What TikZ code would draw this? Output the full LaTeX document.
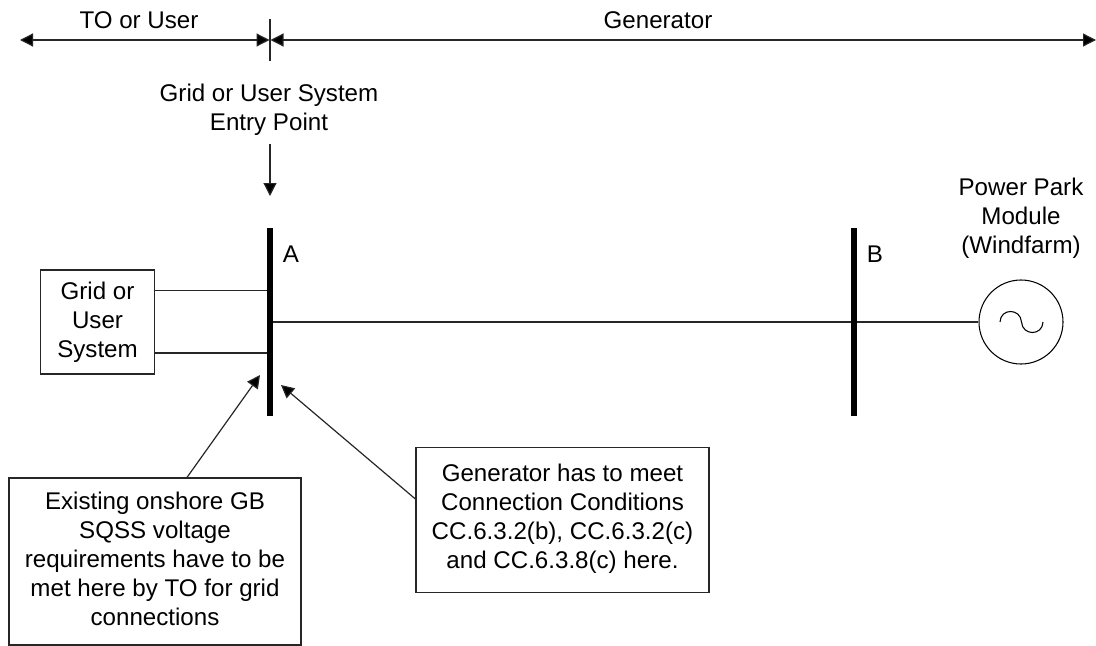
\documentclass[tikz,border=0pt]{standalone}
\usepackage{fontspec}
\setmainfont{Liberation Sans}
\usetikzlibrary{arrows.meta}
\tikzset{
  txt/.style={inner sep=0pt,align=center,font=\fontsize{18.1}{21.75}\selectfont,text=black},
  boxed/.style={draw=black!85,line width=0.9pt,inner sep=0pt,align=center,font=\fontsize{18.1}{21.75}\selectfont},
  thinline/.style={draw=black!85,line width=0.9pt},
  tipstyle/.tip={Triangle[length=9.75pt,width=9.75pt,fill=black]},
  arr/.style={thinline,-{tipstyle}},
  arrs/.style={thinline,{tipstyle}-{tipstyle}},
  bar/.style={fill=black,draw=none,minimum width=4.5pt,minimum height=141pt,inner sep=0pt}
}
\begin{document}
\begin{tikzpicture}[x=0.75pt,y=-0.75pt]
\useasboundingbox (0,0) rectangle (1096,646);
% coordinates
\coordinate (tl) at (20,40);
\coordinate (tm1) at (269.5,40);
\coordinate (tm2) at (270.5,40);
\coordinate (tr) at (1096,40);
\coordinate (tickT) at (270,19);
\coordinate (tickB) at (270,61);
\coordinate (epS) at (270,144);
\coordinate (epE) at (270,196);
% texts
\node[txt] (to) at (139,20) {TO or User};
\node[txt] (gen) at (658,20) {Generator};
\node[txt] (entry) at (269,109.5) {Grid or User System\\Entry Point};
\node[txt] (ppm) at (1021,218) {Power Park\\Module\\(Windfarm)};
\node[txt] (la) at (291,254) {A};
\node[txt] (lb) at (875,254) {B};
% buses
\node[bar] (busA) at (270,322) {};
\node[bar] (busB) at (854,322) {};
% boxes
\node[boxed,minimum width=86pt,minimum height=78pt] (grid) at (97.5,322) {};
\node[txt] (gridtext) at (97.5,322.5) {Grid or\\User\\System};
\node[boxed,minimum width=219pt,minimum height=125.25pt] (note1) at (155,561.5) {Existing onshore GB\\SQSS voltage\\requirements have to be\\met here by TO for grid\\connections\\[-17.25pt]\mbox{}};
\node[boxed,minimum width=219.75pt,minimum height=108.75pt] (note2) at (562.5,520) {Generator has to meet\\Connection Conditions\\CC.6.3.2(b), CC.6.3.2(c)\\and CC.6.3.8(c) here.\\[-16pt]\mbox{}};
\node[draw=black,line width=0.8pt,circle,minimum size=63pt,inner sep=0pt] (genr) at (1021,322) {};
% tilde
\draw[thinline,draw=black,line width=0.8pt] (1000,322) .. controls (1000.5,308) and (1020.5,308) .. (1021.5,322) .. controls (1022.5,336) and (1042.5,336) .. (1043,322);
% connectors
\draw[arrs] (tl) -- (tm1);
\draw[arrs] (tm2) -- (tr);
\draw[thinline] (tickT) -- (tickB);
\draw[arr] (epS) -- (epE);
\draw[thinline] (grid.east |- 0,290.5) -- (busA.west |- 0,290.5);
\draw[thinline] (grid.east |- 0,353) -- (busA.west |- 0,353);
\draw[thinline] (busA.east) -- (busB.west);
\draw[thinline] (busB.east) -- (genr.west);
\coordinate (a1) at (260,375);
\coordinate (a2) at (281,385);
\draw[arr] (note1.north -| 187,0) -- (a1);
\draw[arr] (note2.west |- 0,499) -- (a2);
\end{tikzpicture}
\end{document}
